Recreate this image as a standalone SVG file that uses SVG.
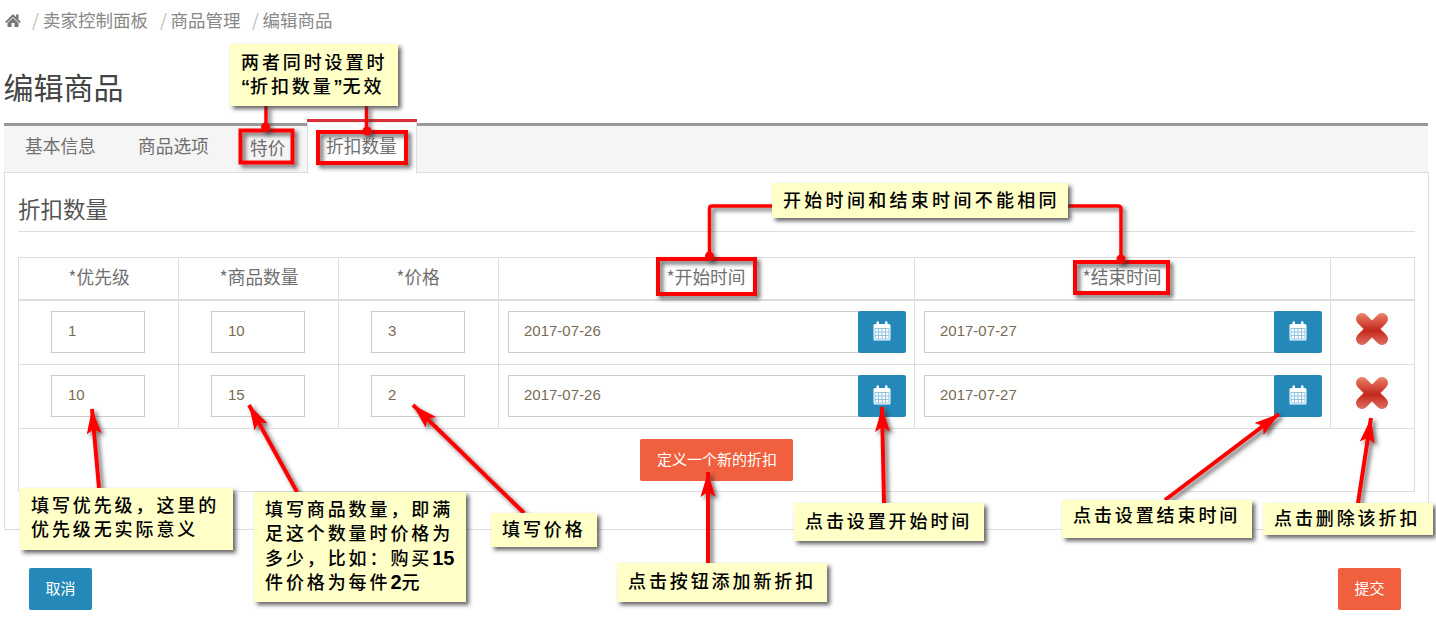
<svg xmlns="http://www.w3.org/2000/svg" width="1436" height="630" viewBox="0 0 1436 630" xmlns:xlink="http://www.w3.org/1999/xlink">
<style>
text{font-family:"Noto Sans CJK SC","Liberation Sans",sans-serif}
.crumb{font-size:17.500px;fill:#888}
.sep{font-size:17.500px;fill:#bbb}
.th{font-size:17.700px;fill:#6f6f6f;text-anchor:middle}
.tab{font-size:17.700px;fill:#6f6f6f}
.val{font-family:"Liberation Sans",sans-serif;font-size:15px;fill:#7a6a55}
.ln{stroke:#ddd;stroke-width:1;fill:none}
.inp{fill:#fff;stroke:#ccc;stroke-width:1}
.blue{fill:#2488b9}
.org{fill:#f1603e}
.btn{font-size:15px;fill:#fff;text-anchor:middle}
.box{fill:#ffffc8;filter:url(#sh)}
.ct{font-size:18px;font-weight:500;fill:#000;letter-spacing:2.900px}
.ct tspan.n{font-family:"Liberation Sans",sans-serif;font-weight:700;font-size:20px;letter-spacing:0}
.ct tspan.q{font-family:"Liberation Sans",sans-serif;font-weight:700;letter-spacing:0}
.hl{fill:none;stroke:#f00;stroke-width:4;filter:url(#sh)}
.cn{fill:none;stroke:#f00;stroke-width:3.500}
.ar{stroke:#f00;stroke-width:4;fill:none;marker-end:url(#ah)}
</style>
<defs>
<filter id="sh" x="-20%" y="-30%" width="140%" height="160%"><feDropShadow dx="3" dy="3" stdDeviation="2" flood-color="#333" flood-opacity=".75"/></filter>
<filter id="sh2" x="-30%" y="-30%" width="160%" height="160%"><feDropShadow dx="3" dy="3" stdDeviation="2" flood-color="#333" flood-opacity=".7"/></filter>
<marker id="ah" markerUnits="userSpaceOnUse" markerWidth="30" markerHeight="20" refX="25" refY="10" orient="auto"><path d="M0 2.500 L25 10 L0 17.500 L5 10Z" fill="#f00"/></marker>
<linearGradient id="xg" gradientUnits="userSpaceOnUse" x1="0" y1="-15" x2="0" y2="15"><stop offset="0" stop-color="#e97c66"/><stop offset=".55" stop-color="#c4281c"/><stop offset="1" stop-color="#dc6a60"/></linearGradient>
<g id="cal"><rect x="-8.500" y="-7" width="17" height="16.500" rx="1.500" fill="#fff"/><rect x="-5.500" y="-9.500" width="2.500" height="5" fill="#fff"/><rect x="3" y="-9.500" width="2.500" height="5" fill="#fff"/><path d="M-7-2.500H7V8H-7ZM-3.500-2.500V8M0-2.500V8M3.500-2.500V8M-7 1H7M-7 4.500H7" fill="none" stroke="#7ab8d8" stroke-width=".8"/></g>
<g id="x" fill="none" stroke="url(#xg)" stroke-width="12" stroke-linecap="round"><path d="M-10-10L10 10M10-10L-10 10"/></g>
</defs>
<rect width="1436" height="630" fill="#fff"/>

<g id="breadcrumb">
<path d="M5 22 L13 14 L16 17 V14.500 H18.500 V19.500 L21 22 L19.500 23 L13 17 L6.500 23Z M7.500 23 L13 18 L18.500 23 V27 H14.500 V23 H11.500 V27 H7.500Z" fill="#777"/>
<text class="sep" x="32" y="27">/</text><text class="crumb" x="43" y="27">卖家控制面板</text>
<text class="sep" x="160" y="27">/</text><text class="crumb" x="170.500" y="27">商品管理</text>
<text class="sep" x="252" y="27">/</text><text class="crumb" x="262.500" y="27">编辑商品</text>
</g>
<text x="3.500" y="99" font-size="30" fill="#444">编辑商品</text>

<g id="panel">
<path d="M4.500 172V529.500H1428.500V172" class="ln"/>
<text x="18" y="218" font-size="22.500" fill="#555">折扣数量</text>
<path d="M18 231.500H1415" class="ln"/>
</g>

<g id="tabs">
<rect x="4" y="125" width="1424" height="47" fill="#f5f5f5"/>
<rect x="4" y="123" width="1424" height="3" fill="#999"/>
<path d="M4 172.500H1428" class="ln"/>
<path d="M307.500 174V122H416.500V174" fill="#fff" stroke="#ddd"/>
<rect x="307" y="119" width="110" height="3" fill="#d9313a"/>
<text class="tab" x="25" y="153">基本信息</text>
<text class="tab" x="138" y="153">商品选项</text>
<text class="tab" x="250" y="155">特价</text>
<text class="tab" x="326" y="153">折扣数量</text>
</g>

<g id="table">
<rect x="18.500" y="257.500" width="1396" height="234" class="ln"/>
<path d="M178.500 257V428M338.500 257V428M498.500 257V428M914.500 257V428M1330.500 257V428M18 364.500H1415M18 428.500H1415" class="ln"/>
<path d="M18 300H1415" stroke="#ddd" stroke-width="2"/>
<text class="th" x="99" y="284">*优先级</text>
<text class="th" x="259" y="284">*商品数量</text>
<text class="th" x="418" y="284">*价格</text>
<text class="th" x="706" y="284">*开始时间</text>
<text class="th" x="1122" y="284">*结束时间</text>
</g>

<g id="row1">
<rect class="inp" x="51.500" y="311.500" width="93" height="41"/><text class="val" x="68" y="336">1</text>
<rect class="inp" x="211.500" y="311.500" width="93" height="41"/><text class="val" x="228" y="336">10</text>
<rect class="inp" x="371.500" y="311.500" width="93" height="41"/><text class="val" x="388" y="336">3</text>
<rect class="inp" x="508.500" y="311.500" width="350" height="41"/><text class="val" x="524" y="336">2017-07-26</text>
<rect class="blue" x="858" y="311" width="48" height="42" rx="2"/><use xlink:href="#cal" href="#cal" x="882" y="331"/>
<rect class="inp" x="924.500" y="311.500" width="350" height="41"/><text class="val" x="940" y="336">2017-07-27</text>
<rect class="blue" x="1274" y="311" width="48" height="42" rx="2"/><use xlink:href="#cal" href="#cal" x="1298" y="331"/>
<use xlink:href="#x" href="#x" x="1372" y="329"/>
</g>
<g id="row2">
<rect class="inp" x="51.500" y="375.500" width="93" height="41"/><text class="val" x="68" y="400">10</text>
<rect class="inp" x="211.500" y="375.500" width="93" height="41"/><text class="val" x="228" y="400">15</text>
<rect class="inp" x="371.500" y="375.500" width="93" height="41"/><text class="val" x="388" y="400">2</text>
<rect class="inp" x="508.500" y="375.500" width="350" height="41"/><text class="val" x="524" y="400">2017-07-26</text>
<rect class="blue" x="858" y="375" width="48" height="42" rx="2"/><use xlink:href="#cal" href="#cal" x="882" y="395"/>
<rect class="inp" x="924.500" y="375.500" width="350" height="41"/><text class="val" x="940" y="400">2017-07-27</text>
<rect class="blue" x="1274" y="375" width="48" height="42" rx="2"/><use xlink:href="#cal" href="#cal" x="1298" y="395"/>
<use xlink:href="#x" href="#x" x="1372" y="393"/>
</g>

<g id="btn-add"><rect class="org" x="640" y="439" width="153" height="42" rx="2"/><text class="btn" x="717" y="465">定义一个新的折扣</text></g>
<g id="btn-cancel"><rect class="blue" x="29" y="568" width="63" height="42" rx="2"/><text class="btn" x="60.500" y="594">取消</text></g>
<g id="btn-submit"><rect class="org" x="1338" y="568" width="63" height="42" rx="2"/><text class="btn" x="1369.500" y="594">提交</text></g>

<g id="highlights">
<rect class="hl" x="240.500" y="130.500" width="52" height="32"/>
<rect class="hl" x="318" y="132" width="88" height="31"/>
<rect class="hl" x="658" y="259" width="97" height="35"/>
<rect class="hl" x="1075" y="262" width="93" height="31"/>
</g>

<g id="connectors" filter="url(#sh2)">
<path class="cn" d="M266 106V127"/><circle cx="265.500" cy="127" r="4.500" fill="#f00"/>
<path class="cn" d="M366.500 106V131"/><circle cx="367" cy="131" r="4.500" fill="#f00"/>
<path class="cn" d="M772 206H712Q709.500 206 709.500 208.500V256"/><circle cx="709.500" cy="256" r="4.500" fill="#f00"/>
<path class="cn" d="M1068 206H1118Q1121 206 1121 209V259"/><circle cx="1121" cy="259" r="4.500" fill="#f00"/>
<path class="ar" d="M99 488L92 409"/>
<path class="ar" d="M297 492L249 405"/>
<path class="ar" d="M524 513L413 405"/>
<path class="ar" d="M708 563L708 472"/>
<path class="ar" d="M884 503L882 407"/>
<path class="ar" d="M1165 500L1279 414"/>
<path class="ar" d="M1358 503L1371 418"/>
</g>

<g id="note-both"><rect class="box" x="230" y="44" width="168" height="62"/><text class="ct" x="241" y="69">两者同时设置时</text><text class="ct" x="241" y="93"><tspan class="q">“</tspan>折扣数量<tspan class="q">”</tspan>无效</text></g>
<g id="note-time"><rect class="box" x="772" y="183" width="296" height="35"/><text class="ct" x="783" y="207" style="letter-spacing:3.300px">开始时间和结束时间不能相同</text></g>
<g id="note-priority"><rect class="box" x="20" y="488" width="213" height="62"/><text class="ct" x="31" y="512">填写优先级，这里的</text><text class="ct" x="31" y="536">优先级无实际意义</text></g>
<g id="note-qty"><rect class="box" x="254" y="492" width="212" height="110"/><text class="ct" x="265" y="516">填写商品数量，即满</text><text class="ct" x="265" y="540">足这个数量时价格为</text><text class="ct" x="265" y="565">多少，比如：购买<tspan class="n">15</tspan></text><text class="ct" x="265" y="589">件价格为每件<tspan class="n">2</tspan>元</text></g>
<g id="note-price"><rect class="box" x="491" y="513" width="106" height="34"/><text class="ct" x="502" y="536">填写价格</text></g>
<g id="note-add"><rect class="box" x="617" y="563" width="210" height="39"/><text class="ct" x="628" y="588">点击按钮添加新折扣</text></g>
<g id="note-start"><rect class="box" x="794" y="503" width="190" height="38"/><text class="ct" x="805" y="528">点击设置开始时间</text></g>
<g id="note-end"><rect class="box" x="1062" y="500" width="190" height="38"/><text class="ct" x="1073" y="522">点击设置结束时间</text></g>
<g id="note-del"><rect class="box" x="1263" y="503" width="170" height="32"/><text class="ct" x="1274" y="525">点击删除该折扣</text></g>
</svg>
